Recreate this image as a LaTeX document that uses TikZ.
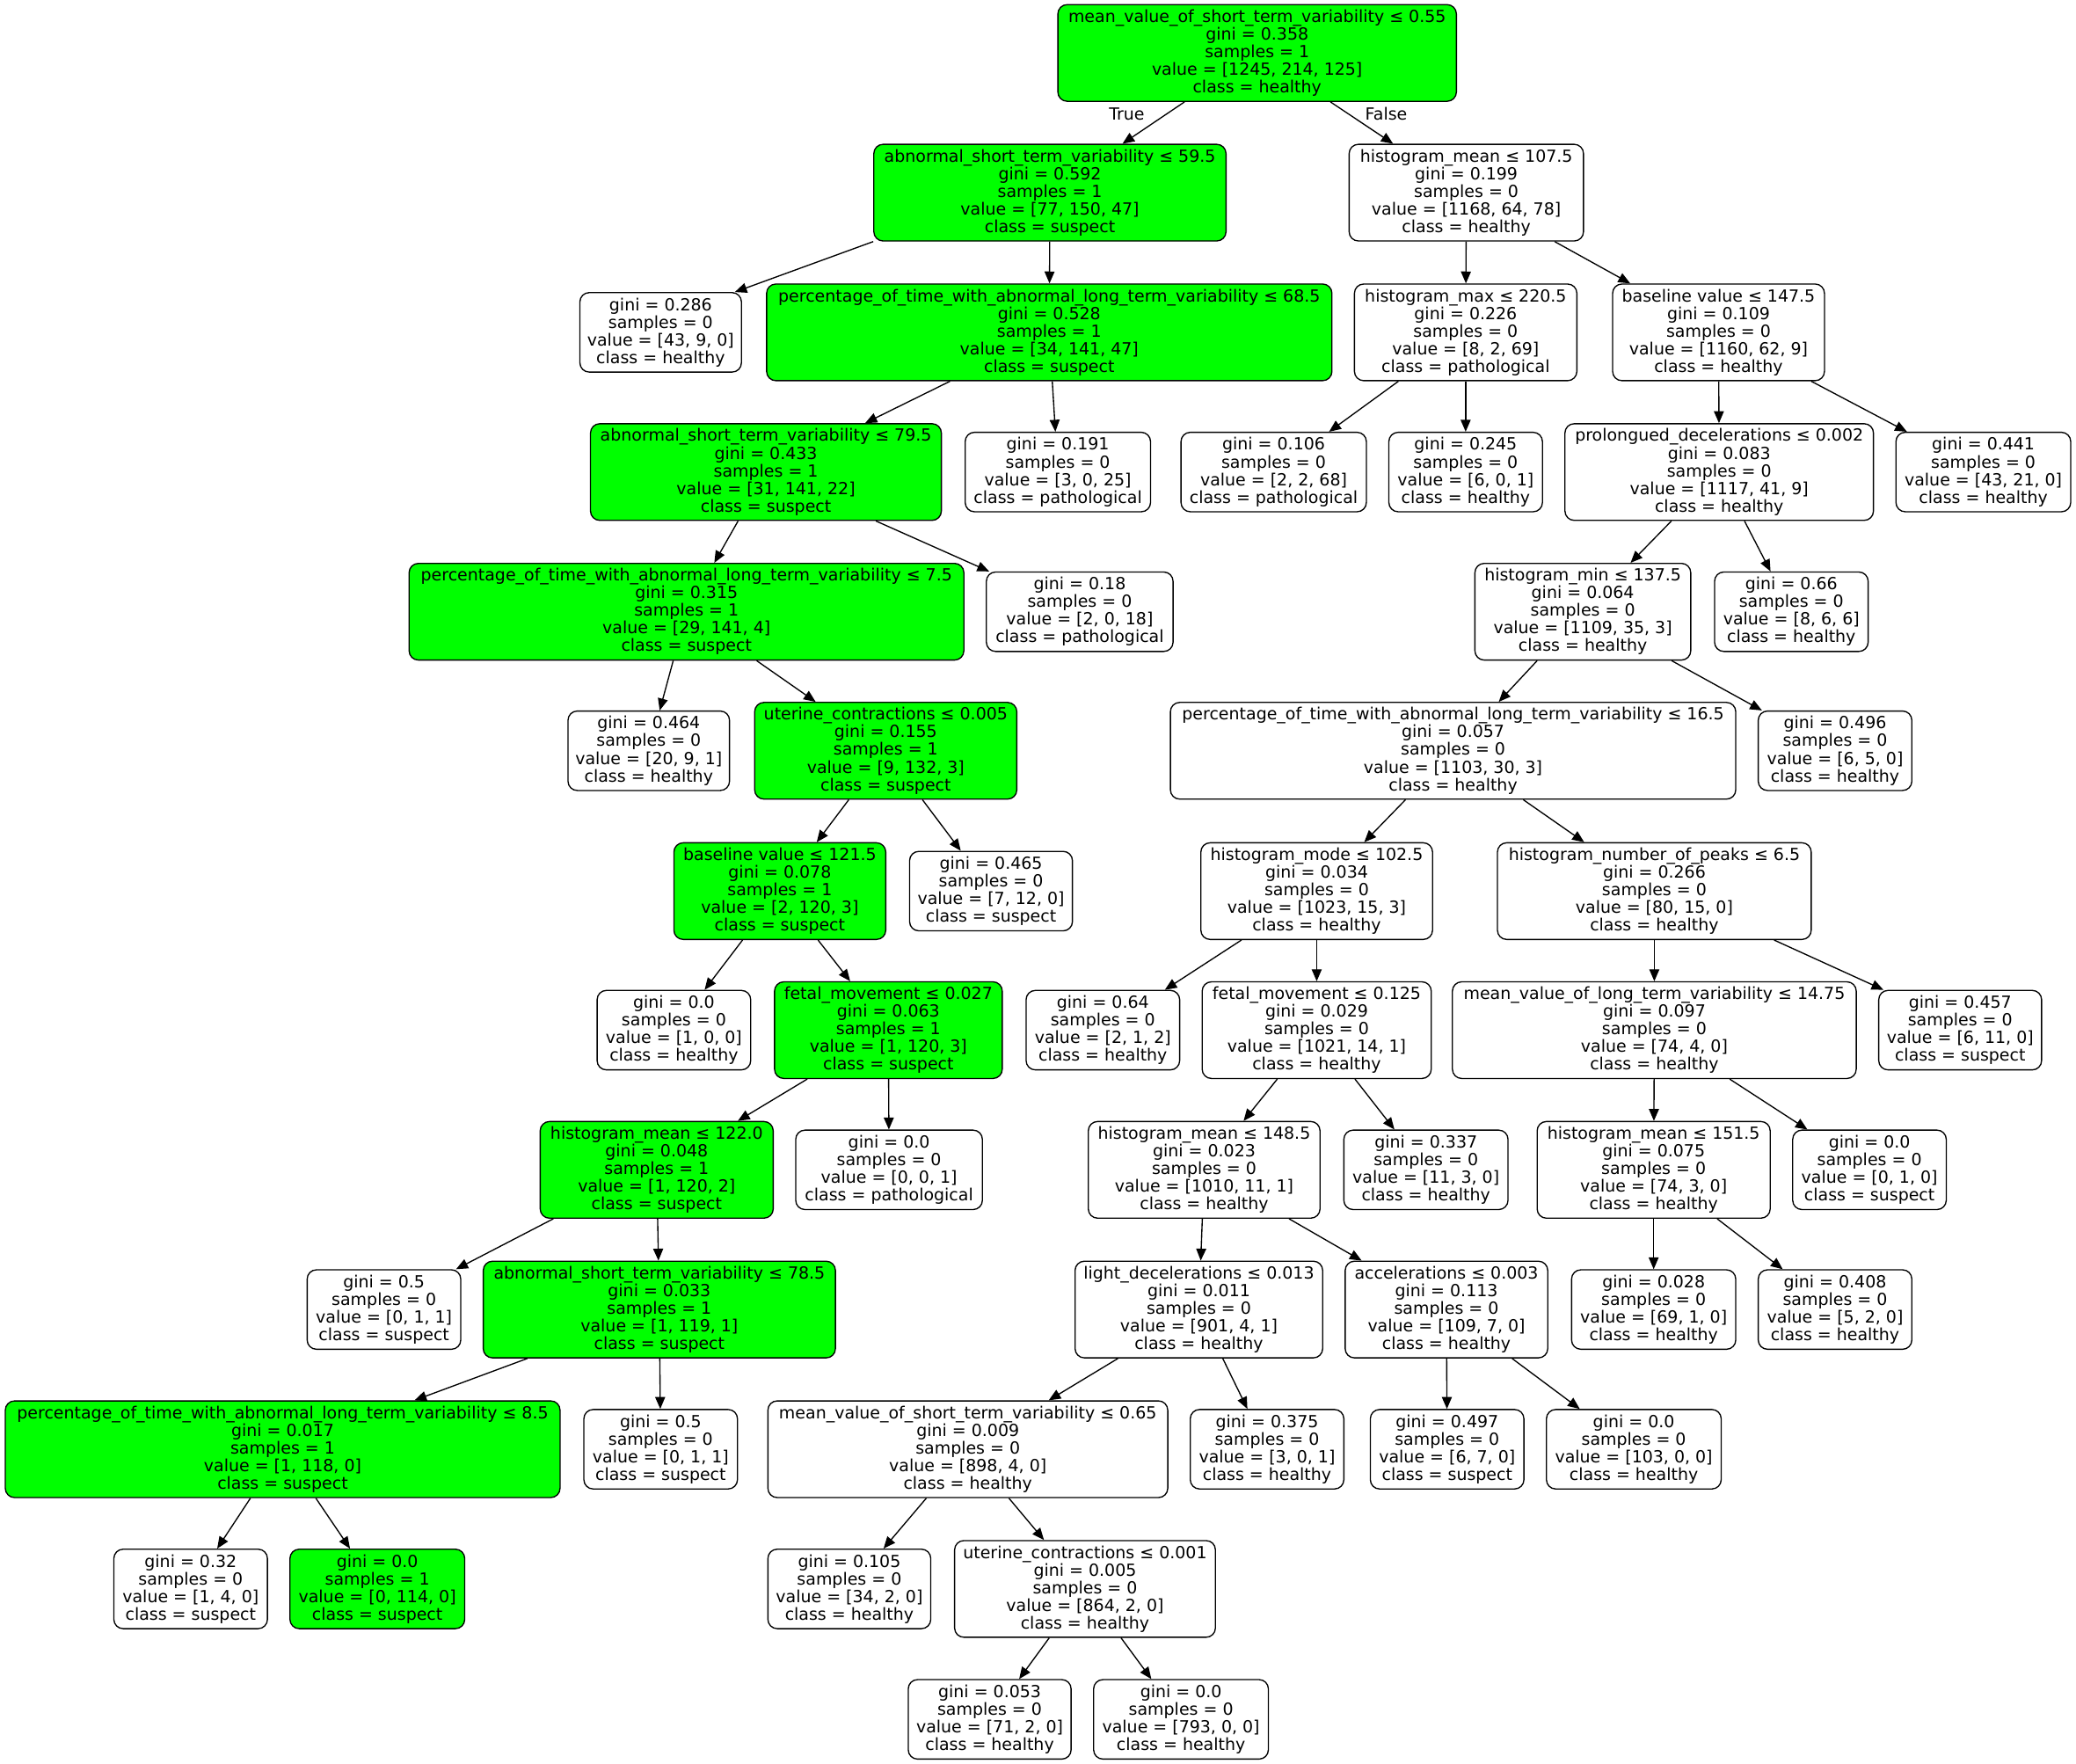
\documentclass[tikz,border=0pt]{standalone}
\usepackage{fontspec}
\newfontfamily\dvsans{DejaVu Sans}
\usetikzlibrary{arrows.meta}
\definecolor{splitgreen}{HTML}{00FF00}
\tikzset{
  tn/.style={draw=black, line width=0.9pt, rounded corners=7pt, fill=white,
    align=center, inner sep=0pt, minimum height=73pt,
    font=\dvsans\fontsize{12.6}{13.3}\selectfont},
  lf/.style={tn, minimum height=60pt},
  gr/.style={fill=splitgreen},
  lbl/.style={inner sep=0pt, font=\dvsans\fontsize{12.6}{13.3}\selectfont},
  edge/.style={-{Triangle[length=9pt,width=7.5pt]}, line width=0.9pt}
}
\begin{document}
\begin{tikzpicture}[x=1pt,y=1pt]
\useasboundingbox (0,0) rectangle (1568,-1332);
% rank 0
\node[tn,gr,minimum width=301pt] (n0) at (949.5,-40) {mean\_value\_of\_short\_term\_variability ≤ 0.55\\gini = 0.358\\samples = 1\\value = [1245, 214, 125]\\class = healthy};
% rank 1
\node[tn,gr,minimum width=266pt] (a) at (793,-145.5) {abnormal\_short\_term\_variability ≤ 59.5\\gini = 0.592\\samples = 1\\value = [77, 150, 47]\\class = suspect};
\node[tn,minimum width=177pt] (b) at (1107.5,-145.5) {histogram\_mean ≤ 107.5\\gini = 0.199\\samples = 0\\value = [1168, 64, 78]\\class = healthy};
% rank 2
\node[lf,minimum width=122pt] (a1) at (499,-251) {gini = 0.286\\samples = 0\\value = [43, 9, 0]\\class = healthy};
\node[tn,gr,minimum width=427pt] (a2) at (792.5,-251) {percentage\_of\_time\_with\_abnormal\_long\_term\_variability ≤ 68.5\\gini = 0.528\\samples = 1\\value = [34, 141, 47]\\class = suspect};
\node[tn,minimum width=168pt] (b1) at (1107,-251) {histogram\_max ≤ 220.5\\gini = 0.226\\samples = 0\\value = [8, 2, 69]\\class = pathological};
\node[tn,minimum width=160pt] (b2) at (1298,-251) {baseline value ≤ 147.5\\gini = 0.109\\samples = 0\\value = [1160, 62, 9]\\class = healthy};
% rank 3
\node[tn,gr,minimum width=265pt] (a2a) at (578.5,-356.5) {abnormal\_short\_term\_variability ≤ 79.5\\gini = 0.433\\samples = 1\\value = [31, 141, 22]\\class = suspect};
\node[lf,minimum width=140pt] (a2b) at (799,-356.5) {gini = 0.191\\samples = 0\\value = [3, 0, 25]\\class = pathological};
\node[lf,minimum width=140pt] (b1a) at (962,-356.5) {gini = 0.106\\samples = 0\\value = [2, 2, 68]\\class = pathological};
\node[lf,minimum width=116pt] (b1b) at (1107,-356.5) {gini = 0.245\\samples = 0\\value = [6, 0, 1]\\class = healthy};
\node[tn,minimum width=233pt] (b2a) at (1298.5,-356.5) {prolongued\_decelerations ≤ 0.002\\gini = 0.083\\samples = 0\\value = [1117, 41, 9]\\class = healthy};
\node[lf,minimum width=132pt] (b2b) at (1498,-356.5) {gini = 0.441\\samples = 0\\value = [43, 21, 0]\\class = healthy};
% rank 4
\node[tn,gr,minimum width=419pt] (c) at (518.5,-462) {percentage\_of\_time\_with\_abnormal\_long\_term\_variability ≤ 7.5\\gini = 0.315\\samples = 1\\value = [29, 141, 4]\\class = suspect};
\node[lf,minimum width=141pt] (c2) at (815.5,-462) {gini = 0.18\\samples = 0\\value = [2, 0, 18]\\class = pathological};
\node[tn,minimum width=163pt] (d) at (1195.5,-462) {histogram\_min ≤ 137.5\\gini = 0.064\\samples = 0\\value = [1109, 35, 3]\\class = healthy};
\node[lf,minimum width=116pt] (d2) at (1353,-462) {gini = 0.66\\samples = 0\\value = [8, 6, 6]\\class = healthy};
% rank 5
\node[lf,minimum width=122pt] (c1) at (490,-567) {gini = 0.464\\samples = 0\\value = [20, 9, 1]\\class = healthy};
\node[tn,gr,minimum width=198pt] (e) at (669,-567) {uterine\_contractions ≤ 0.005\\gini = 0.155\\samples = 1\\value = [9, 132, 3]\\class = suspect};
\node[tn,minimum width=427pt] (f) at (1097.5,-567) {percentage\_of\_time\_with\_abnormal\_long\_term\_variability ≤ 16.5\\gini = 0.057\\samples = 0\\value = [1103, 30, 3]\\class = healthy};
\node[lf,minimum width=116pt] (f2) at (1386,-567) {gini = 0.496\\samples = 0\\value = [6, 5, 0]\\class = healthy};
% rank 6
\node[tn,gr,minimum width=160pt] (g) at (589,-673) {baseline value ≤ 121.5\\gini = 0.078\\samples = 1\\value = [2, 120, 3]\\class = suspect};
\node[lf,minimum width=123pt] (e2) at (748.5,-673) {gini = 0.465\\samples = 0\\value = [7, 12, 0]\\class = suspect};
\node[tn,minimum width=175pt] (h) at (994.5,-673) {histogram\_mode ≤ 102.5\\gini = 0.034\\samples = 0\\value = [1023, 15, 3]\\class = healthy};
\node[tn,minimum width=237pt] (i) at (1249.5,-673) {histogram\_number\_of\_peaks ≤ 6.5\\gini = 0.266\\samples = 0\\value = [80, 15, 0]\\class = healthy};
% rank 7
\node[lf,minimum width=116pt] (g1) at (509,-778) {gini = 0.0\\samples = 0\\value = [1, 0, 0]\\class = healthy};
\node[tn,gr,minimum width=172pt] (j) at (671,-778) {fetal\_movement ≤ 0.027\\gini = 0.063\\samples = 1\\value = [1, 120, 3]\\class = suspect};
\node[lf,minimum width=116pt] (h1) at (833,-778) {gini = 0.64\\samples = 0\\value = [2, 1, 2]\\class = healthy};
\node[tn,minimum width=173pt] (k) at (994.5,-778) {fetal\_movement ≤ 0.125\\gini = 0.029\\samples = 0\\value = [1021, 14, 1]\\class = healthy};
\node[tn,minimum width=305pt] (l) at (1249.5,-778) {mean\_value\_of\_long\_term\_variability ≤ 14.75\\gini = 0.097\\samples = 0\\value = [74, 4, 0]\\class = healthy};
\node[lf,minimum width=123pt] (i2) at (1480.5,-778) {gini = 0.457\\samples = 0\\value = [6, 11, 0]\\class = suspect};
% rank 8
\node[tn,gr,minimum width=176pt] (m) at (496,-883.5) {histogram\_mean ≤ 122.0\\gini = 0.048\\samples = 1\\value = [1, 120, 2]\\class = suspect};
\node[lf,minimum width=141pt] (j2) at (671.5,-883.5) {gini = 0.0\\samples = 0\\value = [0, 0, 1]\\class = pathological};
\node[tn,minimum width=175pt] (n) at (909.5,-883.5) {histogram\_mean ≤ 148.5\\gini = 0.023\\samples = 0\\value = [1010, 11, 1]\\class = healthy};
\node[lf,minimum width=124pt] (k2) at (1077,-883.5) {gini = 0.337\\samples = 0\\value = [11, 3, 0]\\class = healthy};
\node[tn,minimum width=176pt] (o) at (1249,-883.5) {histogram\_mean ≤ 151.5\\gini = 0.075\\samples = 0\\value = [74, 3, 0]\\class = healthy};
\node[lf,minimum width=116pt] (l2) at (1412,-883.5) {gini = 0.0\\samples = 0\\value = [0, 1, 0]\\class = suspect};
% rank 9
\node[lf,minimum width=116pt] (m1) at (290,-989) {gini = 0.5\\samples = 0\\value = [0, 1, 1]\\class = suspect};
\node[tn,gr,minimum width=266pt] (p) at (498,-989) {abnormal\_short\_term\_variability ≤ 78.5\\gini = 0.033\\samples = 1\\value = [1, 119, 1]\\class = suspect};
\node[tn,minimum width=187pt] (q) at (905.5,-989) {light\_decelerations ≤ 0.013\\gini = 0.011\\samples = 0\\value = [901, 4, 1]\\class = healthy};
\node[tn,minimum width=153pt] (r) at (1092.5,-989) {accelerations ≤ 0.003\\gini = 0.113\\samples = 0\\value = [109, 7, 0]\\class = healthy};
\node[lf,minimum width=124pt] (o1) at (1249,-989) {gini = 0.028\\samples = 0\\value = [69, 1, 0]\\class = healthy};
\node[lf,minimum width=116pt] (o2) at (1386,-989) {gini = 0.408\\samples = 0\\value = [5, 2, 0]\\class = healthy};
% rank 10
\node[tn,gr,minimum width=419pt] (s) at (213.5,-1094.5) {percentage\_of\_time\_with\_abnormal\_long\_term\_variability ≤ 8.5\\gini = 0.017\\samples = 1\\value = [1, 118, 0]\\class = suspect};
\node[lf,minimum width=116pt] (p2) at (499,-1094.5) {gini = 0.5\\samples = 0\\value = [0, 1, 1]\\class = suspect};
\node[tn,minimum width=302pt] (t) at (731,-1094.5) {mean\_value\_of\_short\_term\_variability ≤ 0.65\\gini = 0.009\\samples = 0\\value = [898, 4, 0]\\class = healthy};
\node[lf,minimum width=116pt] (q2) at (957,-1094.5) {gini = 0.375\\samples = 0\\value = [3, 0, 1]\\class = healthy};
\node[lf,minimum width=116pt] (r1) at (1093,-1094.5) {gini = 0.497\\samples = 0\\value = [6, 7, 0]\\class = suspect};
\node[lf,minimum width=132pt] (r2) at (1234,-1094.5) {gini = 0.0\\samples = 0\\value = [103, 0, 0]\\class = healthy};
% rank 11
\node[lf,minimum width=116pt] (s1) at (144,-1200) {gini = 0.32\\samples = 0\\value = [1, 4, 0]\\class = suspect};
\node[lf,gr,minimum width=132pt] (s2) at (285,-1200) {gini = 0.0\\samples = 1\\value = [0, 114, 0]\\class = suspect};
\node[lf,minimum width=123pt] (t1) at (641.5,-1200) {gini = 0.105\\samples = 0\\value = [34, 2, 0]\\class = healthy};
\node[tn,minimum width=197pt] (u) at (819.5,-1200) {uterine\_contractions ≤ 0.001\\gini = 0.005\\samples = 0\\value = [864, 2, 0]\\class = healthy};
% rank 12
\node[lf,minimum width=123pt] (u1) at (747.5,-1298.5) {gini = 0.053\\samples = 0\\value = [71, 2, 0]\\class = healthy};
\node[lf,minimum width=132pt] (u2) at (892,-1298.5) {gini = 0.0\\samples = 0\\value = [793, 0, 0]\\class = healthy};
% branch labels under the root
\node[lbl] (tl) at (851,-86) {True};
\node[lbl] (fl) at (1047,-86) {False};
% connectors between centres
\foreach \p/\c in {n0/a,n0/b,a/a2,a2/a2a,a2/a2b,a2a/c,a2a/c2,c/c1,c/e,e/g,e/e2,
  g/g1,g/j,j/m,j/j2,m/p,p/s,p/p2,s/s1,s/s2,b/b1,b/b2,b1/b1a,b1/b1b,b2/b2a,b2/b2b,
  b2a/d,b2a/d2,d/f,d/f2,f/h,f/i,h/h1,h/k,k/n,k/k2,n/q,n/r,q/t,q/q2,t/t1,t/u,u/u1,u/u2,
  r/r1,r/r2,i/l,l/o,l/l2,o/o1,o/o2}
  \draw[edge] (\p) -- (\c);
% connectors that leave near a corner
\draw[edge] (a.south west) -- ([xshift=-5.4pt]a1.north east);
\draw[edge] ([xshift=10.4pt]m.south west) -- ([xshift=-4pt]m1.north east);
\draw[edge] ([xshift=-28.5pt]i.south east) -- ([xshift=4pt]i2.north west);
\end{tikzpicture}
\end{document}
